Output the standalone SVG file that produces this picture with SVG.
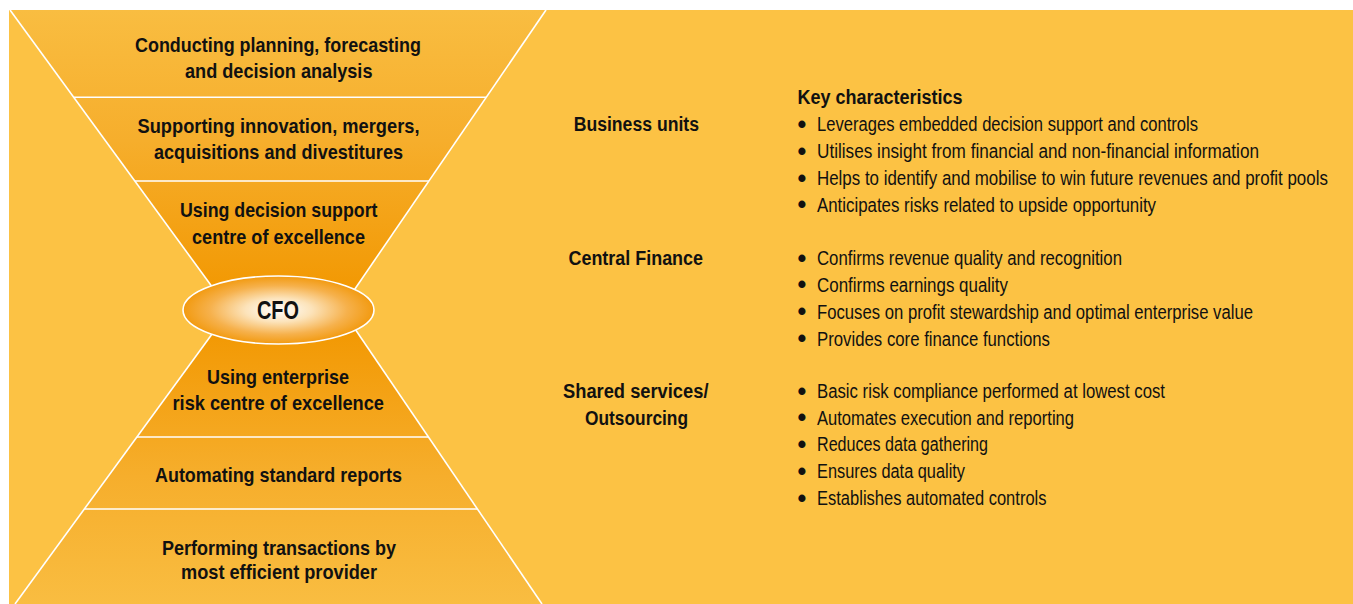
<svg xmlns="http://www.w3.org/2000/svg" width="1353" height="604" viewBox="0 0 1353 604">
<defs>
<linearGradient id="gTop" gradientUnits="userSpaceOnUse" x1="0" y1="10" x2="0" y2="300">
<stop offset="0" stop-color="#F9BD41"/>
<stop offset="0.45" stop-color="#F6AE2C"/>
<stop offset="1" stop-color="#F29700"/>
</linearGradient>
<linearGradient id="gBot" gradientUnits="userSpaceOnUse" x1="0" y1="604" x2="0" y2="320">
<stop offset="0" stop-color="#F9BD41"/>
<stop offset="0.45" stop-color="#F6AE2C"/>
<stop offset="1" stop-color="#F29700"/>
</linearGradient>
<radialGradient id="gCfo" cx="0.5" cy="0.5" r="0.5">
<stop offset="0" stop-color="#FFFFFF"/>
<stop offset="0.35" stop-color="#FCE3BA"/>
<stop offset="0.72" stop-color="#F6B14C"/>
<stop offset="1" stop-color="#F29A10"/>
</radialGradient>
</defs>
<style>
.b{font-family:"Liberation Sans","Arial",sans-serif;font-weight:bold;fill:#111;}
.r{font-family:"Liberation Sans","Arial",sans-serif;fill:#111;font-size:19.5px;}
.lb{font-size:21px;}
.hb{font-size:20px;}
.bul{font-family:"Liberation Sans","DejaVu Sans",sans-serif;font-size:25px;font-weight:bold;fill:#111;}
.w{stroke:#FFFFFF;stroke-width:1.6;fill:none;}
</style>
<rect x="9" y="10" width="1344" height="594" fill="#FCC244"/>
<g id="hourglass">
<polygon points="10,10 546,10 340.5,310 229,310" fill="url(#gTop)"/>
<polygon points="15,604 542,604 342.1,310 229.6,310" fill="url(#gBot)"/>
</g>
<g id="connectors">
<line class="w" x1="10" y1="10" x2="229" y2="310"/>
<line class="w" x1="546" y1="10" x2="340.5" y2="310"/>
<line class="w" x1="15" y1="604" x2="229.6" y2="310"/>
<line class="w" x1="542" y1="604" x2="342.1" y2="310"/>
<line class="w" x1="73.5" y1="97.3" x2="486.4" y2="97.3"/>
<line class="w" x1="134.8" y1="181" x2="428.9" y2="181"/>
<line class="w" x1="136.9" y1="437" x2="428.4" y2="437"/>
<line class="w" x1="84.4" y1="509" x2="477.4" y2="509"/>
</g>
<g id="band1">
<text class="b lb" x="135" y="52" textLength="286" lengthAdjust="spacingAndGlyphs">Conducting planning, forecasting</text>
<text class="b lb" x="185" y="77.5" textLength="187.5" lengthAdjust="spacingAndGlyphs">and decision analysis</text>
</g>
<g id="band2">
<text class="b lb" x="137.5" y="133" textLength="282" lengthAdjust="spacingAndGlyphs">Supporting innovation, mergers,</text>
<text class="b lb" x="154" y="159" textLength="249" lengthAdjust="spacingAndGlyphs">acquisitions and divestitures</text>
</g>
<g id="band3">
<text class="b lb" x="180" y="217" textLength="197.5" lengthAdjust="spacingAndGlyphs">Using decision support</text>
<text class="b lb" x="192" y="244" textLength="173" lengthAdjust="spacingAndGlyphs">centre of excellence</text>
</g>
<g id="cfo">
<ellipse cx="278.5" cy="310" rx="95.5" ry="34" fill="url(#gCfo)" stroke="#FFFFFF" stroke-width="1.6"/>
<text class="b" x="257" y="319" font-size="25.5" textLength="42" lengthAdjust="spacingAndGlyphs">CFO</text>
</g>
<g id="band4">
<text class="b lb" x="207" y="384" textLength="142" lengthAdjust="spacingAndGlyphs">Using enterprise</text>
<text class="b lb" x="172.5" y="410" textLength="211.5" lengthAdjust="spacingAndGlyphs">risk centre of excellence</text>
</g>
<g id="band5">
<text class="b lb" x="155" y="481.5" textLength="247" lengthAdjust="spacingAndGlyphs">Automating standard reports</text>
</g>
<g id="band6">
<text class="b lb" x="162" y="555" textLength="234" lengthAdjust="spacingAndGlyphs">Performing transactions by</text>
<text class="b lb" x="181" y="579" textLength="196" lengthAdjust="spacingAndGlyphs">most efficient provider</text>
</g>
<g id="key-header">
<text class="b hb" x="797.6" y="104" textLength="165" lengthAdjust="spacingAndGlyphs">Key characteristics</text>
</g>
<g id="business-units">
<text class="b hb" x="573.7" y="131" textLength="125.3" lengthAdjust="spacingAndGlyphs">Business units</text>
<text class="bul" x="797.5" y="132.5">•</text><text class="r" x="817" y="131" textLength="381" lengthAdjust="spacingAndGlyphs">Leverages embedded decision support and controls</text>
<text class="bul" x="797.5" y="159.5">•</text><text class="r" x="817" y="158" textLength="442" lengthAdjust="spacingAndGlyphs">Utilises insight from financial and non-financial information</text>
<text class="bul" x="797.5" y="186.5">•</text><text class="r" transform="translate(817,185) scale(0.85,1)" x="0" y="0" textLength="601" lengthAdjust="spacingAndGlyphs">Helps to identify and mobilise to win future revenues and profit pools</text>
<text class="bul" x="797.5" y="213">•</text><text class="r" x="817" y="211.5" textLength="339" lengthAdjust="spacingAndGlyphs">Anticipates risks related to upside opportunity</text>
</g>
<g id="central-finance">
<text class="b hb" x="568.5" y="265" textLength="134.5" lengthAdjust="spacingAndGlyphs">Central Finance</text>
<text class="bul" x="797.5" y="266.5">•</text><text class="r" x="817" y="265" textLength="305" lengthAdjust="spacingAndGlyphs">Confirms revenue quality and recognition</text>
<text class="bul" x="797.5" y="293">•</text><text class="r" x="817" y="291.5" textLength="191" lengthAdjust="spacingAndGlyphs">Confirms earnings quality</text>
<text class="bul" x="797.5" y="320">•</text><text class="r" x="817" y="318.5" textLength="436" lengthAdjust="spacingAndGlyphs">Focuses on profit stewardship and optimal enterprise value</text>
<text class="bul" x="797.5" y="347">•</text><text class="r" x="817" y="345.5" textLength="233" lengthAdjust="spacingAndGlyphs">Provides core finance functions</text>
</g>
<g id="shared-services">
<text class="b hb" x="563" y="398" textLength="145.5" lengthAdjust="spacingAndGlyphs">Shared services/</text>
<text class="b hb" x="585" y="425" textLength="103" lengthAdjust="spacingAndGlyphs">Outsourcing</text>
<text class="bul" x="797.5" y="399.5">•</text><text class="r" x="817" y="398" textLength="348" lengthAdjust="spacingAndGlyphs">Basic risk compliance performed at lowest cost</text>
<text class="bul" x="797.5" y="426">•</text><text class="r" x="817" y="424.5" textLength="257" lengthAdjust="spacingAndGlyphs">Automates execution and reporting</text>
<text class="bul" x="797.5" y="452.5">•</text><text class="r" x="817" y="451" textLength="171" lengthAdjust="spacingAndGlyphs">Reduces data gathering</text>
<text class="bul" x="797.5" y="479.5">•</text><text class="r" x="817" y="478" textLength="148" lengthAdjust="spacingAndGlyphs">Ensures data quality</text>
<text class="bul" x="797.5" y="506.5">•</text><text class="r" x="817" y="505" textLength="229.5" lengthAdjust="spacingAndGlyphs">Establishes automated controls</text>
</g>
</svg>
